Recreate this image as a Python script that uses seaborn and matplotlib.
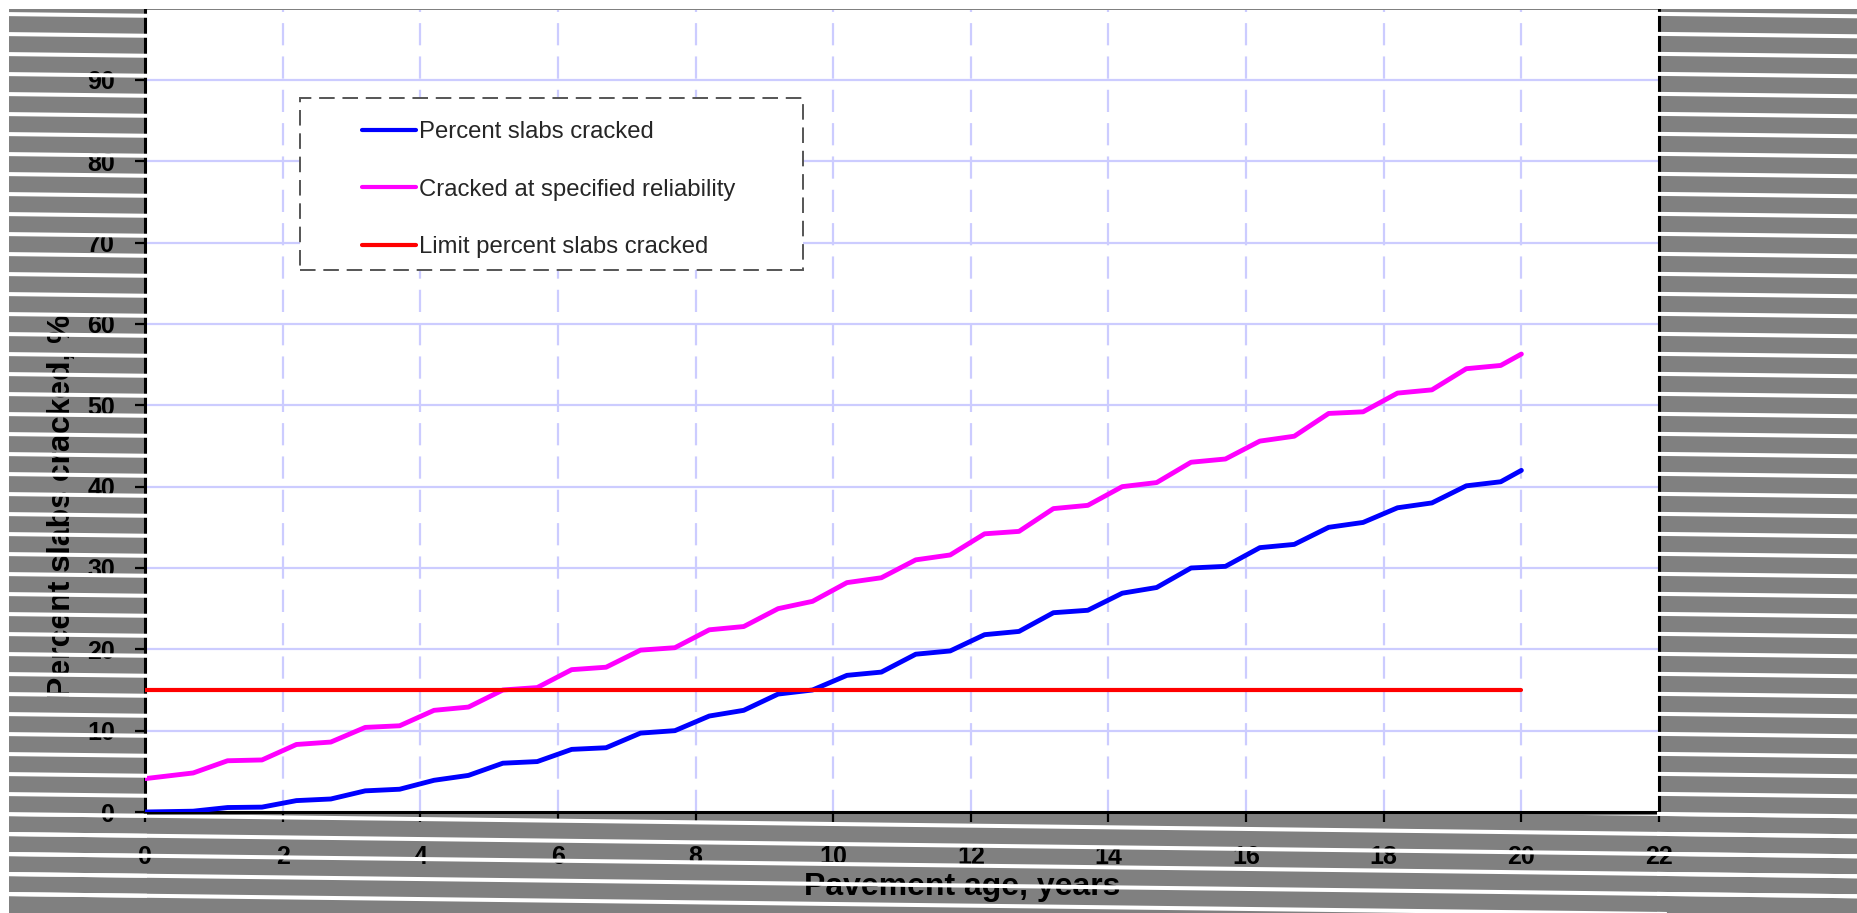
import matplotlib
matplotlib.use("Agg")
import matplotlib.pyplot as plt
import seaborn as sns
from matplotlib.patches import Rectangle
from matplotlib.collections import LineCollection
from matplotlib.lines import Line2D

# Pavement age (years) at which the cracking predictions are reported
age = [0.0, 0.7, 1.2, 1.7, 2.2, 2.7, 3.2, 3.7, 4.2, 4.7, 5.2, 5.7, 6.2, 6.7,
       7.2, 7.7, 8.2, 8.7, 9.2, 9.7, 10.2, 10.7, 11.2, 11.7, 12.2, 12.7,
       13.2, 13.7, 14.2, 14.7, 15.2, 15.7, 16.2, 16.7, 17.2, 17.7, 18.2,
       18.7, 19.2, 19.7, 20.0]

# Predicted percent slabs cracked
pct_cracked = [0.0, 0.1, 0.55, 0.6, 1.4, 1.6, 2.6, 2.8, 3.9, 4.5, 6.0, 6.2,
               7.7, 7.9, 9.7, 10.0, 11.8, 12.5, 14.5, 15.0, 16.8, 17.2, 19.4,
               19.8, 21.8, 22.2, 24.5, 24.8, 26.9, 27.6, 30.0, 30.2, 32.5,
               32.9, 35.0, 35.6, 37.4, 38.0, 40.1, 40.6, 42.0]

# Percent slabs cracked at the specified design reliability
pct_reliability = [4.1, 4.8, 6.3, 6.4, 8.3, 8.6, 10.4, 10.6, 12.5, 12.9, 15.0,
                   15.3, 17.5, 17.8, 19.9, 20.2, 22.4, 22.8, 25.0, 25.9, 28.2,
                   28.8, 31.0, 31.6, 34.2, 34.5, 37.3, 37.7, 40.0, 40.5, 43.0,
                   43.4, 45.6, 46.2, 49.0, 49.2, 51.5, 51.9, 54.5, 54.9, 56.3]

# Design limit
limit_age = [0, 20]
limit_pct = [15, 15]

series_names = ["Percent slabs cracked",
                "Cracked at specified reliability",
                "Limit percent slabs cracked"]
series_colors = ["#0000ff", "#ff00ff", "#ff0000"]

x_ticks = list(range(0, 23, 2))
y_ticks = list(range(0, 91, 10))

sns.set_style("white")
plt.rcParams["font.family"] = ["Liberation Sans", "DejaVu Sans"]

W, H = 1858, 913
fig = plt.figure(figsize=(W / 100, H / 100), dpi=100)
fig.patch.set_facecolor("#808080")


def fx(px):
    return px / W


def fy(py):
    return 1 - py / H


ax_left, ax_right, ax_top, ax_bottom = 145, 1659, 10, 812
ax = fig.add_axes([fx(ax_left), fy(ax_bottom),
                   fx(ax_right) - fx(ax_left), fy(ax_top) - fy(ax_bottom)])
ax.set_facecolor("white")

sns.lineplot(x=age, y=pct_cracked, ax=ax, color=series_colors[0], lw=3.5,
             zorder=3)
sns.lineplot(x=age, y=pct_reliability, ax=ax, color=series_colors[1], lw=3.5,
             zorder=3)
sns.lineplot(x=limit_age, y=limit_pct, ax=ax, color=series_colors[2], lw=3,
             zorder=3)

ax.set_xlim(0, 22)
ax.set_ylim(0, 98.6)
ax.set_xticks(x_ticks)
ax.set_yticks(y_ticks)

# Grid: solid horizontal, dashed vertical, both pale blue
ax.grid(False)
for t in y_ticks[1:]:
    ax.axhline(t, color="#ccccff", lw=1.6, zorder=0.5)
for t in x_ticks[1:-1]:
    ax.axvline(t, color="#ccccff", lw=1.6, ls=(0, (10, 5)), zorder=0.5)

for side in ("left", "right", "bottom"):
    ax.spines[side].set_visible(True)
    ax.spines[side].set_color("black")
    ax.spines[side].set_linewidth(2.2)
ax.spines["top"].set_visible(False)

ax.tick_params(axis="both", direction="out", length=7, width=1.6,
               color="black", labelsize=18, labelcolor="black")
ax.tick_params(axis="y", pad=14.5, left=True, right=False)
ax.tick_params(axis="x", pad=16.5, bottom=True, top=False)
for lbl in ax.get_xticklabels() + ax.get_yticklabels():
    lbl.set_fontweight("bold")

ax.set_xlabel("Pavement age, years", fontsize=23, fontweight="bold",
              color="black")
ax.set_ylabel("Percent slabs cracked, %", fontsize=23, fontweight="bold",
              color="black")
ax.xaxis.set_label_coords((962 - ax_left) / (ax_right - ax_left),
                          (ax_bottom - 872) / (ax_bottom - ax_top))
ax.yaxis.set_label_coords((77 - ax_left) / (ax_right - ax_left),
                          (ax_bottom - 506) / (ax_bottom - ax_top))


def ax_fx(px):
    return (px - ax_left) / (ax_right - ax_left)


def ax_fy(py):
    return (ax_bottom - py) / (ax_bottom - ax_top)


# Legend box with dashed border
box = Rectangle((ax_fx(300), ax_fy(270)), ax_fx(803) - ax_fx(300),
                ax_fy(98) - ax_fy(270), transform=ax.transAxes,
                facecolor="white", edgecolor="#555555", lw=1.4,
                ls=(0, (8, 4)), zorder=2.5)
ax.add_patch(box)
handles = [Line2D([], [], color=c, lw=3) for c in series_colors]
ax.legend(handles, series_names, loc="upper left",
          bbox_to_anchor=(ax_fx(362), ax_fy(121)), frameon=False,
          fontsize=17.2, handlelength=2.26, handletextpad=0.12,
          labelspacing=1.49, borderpad=0, borderaxespad=0)

# Striped surround: thin white bands running across the grey margins
slope = 0.012
segs = []
for y0 in range(-26, 960, 20):
    segs.append([(fx(0), fy(y0)), (fx(W), fy(y0 + slope * W))])
regions = [(0, 0, 147, H), (1657, 0, W, H), (0, 815, W, H)]
for (x0, y0, x1, y1) in regions:
    lc = LineCollection(segs, colors="white", linewidths=2.9,
                        transform=fig.transFigure, zorder=10)
    clip = Rectangle((fx(x0), fy(y1)), fx(x1) - fx(x0), fy(y0) - fy(y1),
                     transform=fig.transFigure)
    lc.set_clip_path(clip)
    fig.add_artist(lc)

fig.add_artist(Rectangle((0, fy(9)), 1, 1 - fy(9), transform=fig.transFigure,
                         facecolor="white", edgecolor="none", zorder=11))
fig.add_artist(Rectangle((0, 0), fx(9), 1, transform=fig.transFigure,
                         facecolor="white", edgecolor="none", zorder=11))

fig.savefig("out.png", dpi=100, facecolor=fig.get_facecolor())
